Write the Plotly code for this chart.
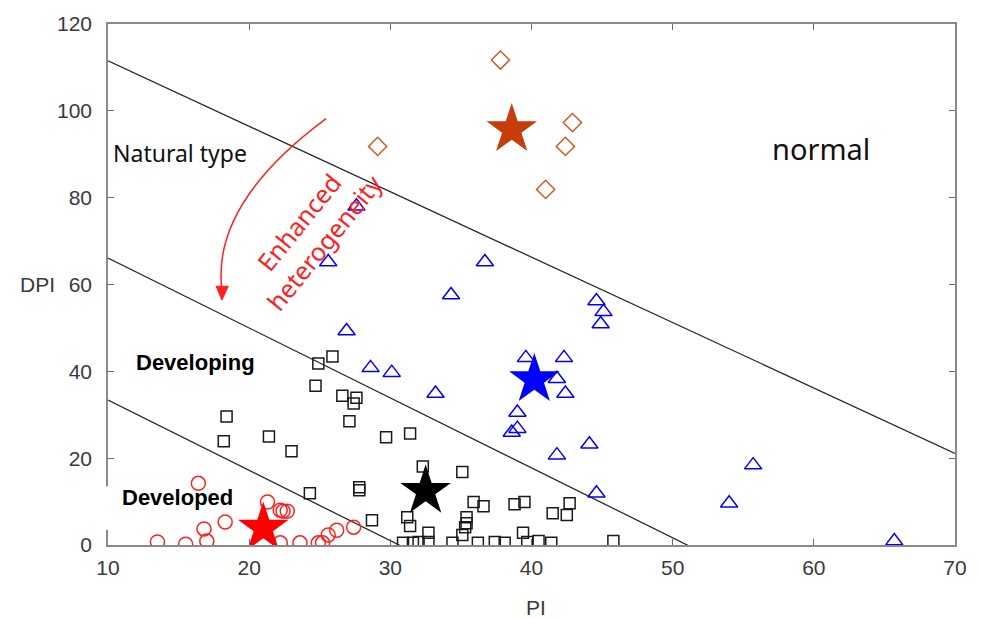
import plotly.graph_objects as go

# ---- data ----
developed_pi = [16.4, 21.3, 22.2, 22.4, 22.7, 16.8, 18.3, 13.5, 15.5, 17.0, 22.2, 23.6, 24.9, 25.2, 25.6, 26.2, 27.4]
developed_dpi = [14.2, 9.9, 8.0, 7.8, 7.8, 3.7, 5.3, 0.7, 0.2, 0.9, 0.5, 0.5, 0.5, 0.5, 2.3, 3.4, 4.1]

developing_pi = [25.9, 24.9, 24.7, 26.6, 27.6, 27.4, 27.1, 18.4, 18.2, 21.4, 23.0, 29.7, 31.4, 32.3, 35.1,
                 24.3, 27.8, 27.8, 28.7, 31.2, 31.4, 32.7, 32.7, 31.6, 30.9, 32.0, 34.4, 35.4, 35.4, 35.3,
                 35.1, 36.2, 37.4, 38.1, 38.8, 39.5, 41.5, 42.5, 42.7, 39.4, 39.7, 40.5, 41.4, 45.8, 36.6, 35.9]
developing_dpi = [43.4, 41.8, 36.7, 34.4, 33.9, 32.6, 28.5, 29.6, 23.9, 25.0, 21.6, 24.8, 25.7, 18.1, 16.8,
                  11.9, 13.3, 12.6, 5.7, 6.4, 4.4, 2.8, 0.7, 0.5, 0.5, 0.7, 0.5, 6.4, 5.0, 4.1,
                  2.3, 0.5, 0.7, 0.5, 9.4, 9.9, 7.3, 6.9, 9.6, 2.8, 0.7, 0.9, 0.5, 0.9, 8.9, 9.9]

natural_pi = [27.6, 25.6, 36.7, 34.3, 26.9, 28.6, 30.1, 33.2, 39.6, 42.3, 41.8, 42.4, 44.6, 45.1, 44.9,
              39.0, 39.0, 38.6, 44.1, 41.8, 44.6, 55.7, 54.0, 65.7]
natural_dpi = [78.0, 65.2, 65.2, 57.6, 49.3, 40.8, 39.7, 34.9, 43.1, 43.1, 38.3, 34.9, 56.2, 53.7, 50.9,
               30.5, 26.8, 25.9, 23.2, 20.7, 11.9, 18.4, 9.6, 0.9]

normal_pi = [37.8, 42.9, 42.4, 29.1, 41.0]
normal_dpi = [111.7, 97.3, 91.8, 91.8, 81.9]

centroid_pi = [21.0, 32.5, 40.2, 38.6]
centroid_dpi = [3.9, 12.4, 38.1, 95.7]
centroid_colors = ["#ff0000", "#000000", "#0000ff", "#c83c0a"]

# boundary lines (PI endpoints, DPI endpoints)
upper_pi, upper_dpi = [10, 70], [111.5, 21.1]
middle_pi, middle_dpi = [10, 51.4], [66.1, -0.6]
lower_pi, lower_dpi = [10, 30.8], [33.4, -0.3]

x_ticks = [10, 20, 30, 40, 50, 60, 70]
y_ticks = [0, 20, 40, 60, 80, 100, 120]

fig = go.Figure()

for lx, ly in [(upper_pi, upper_dpi), (middle_pi, middle_dpi), (lower_pi, lower_dpi)]:
    fig.add_trace(go.Scatter(x=lx, y=ly, mode="lines", line=dict(color="#2a2a2a", width=1.3),
                             hoverinfo="skip", showlegend=False, cliponaxis=True))

fig.add_trace(go.Scatter(x=developed_pi, y=developed_dpi, mode="markers", showlegend=False,
                         marker=dict(symbol="circle-open", size=14, color="#ff2020", line=dict(width=1.5))))
fig.add_trace(go.Scatter(x=developing_pi, y=developing_dpi, mode="markers", showlegend=False,
                         marker=dict(symbol="square-open", size=11, color="#1a1a1a", line=dict(width=1.5))))
fig.add_trace(go.Scatter(x=natural_pi, y=natural_dpi, mode="markers", showlegend=False,
                         marker=dict(symbol="triangle-up-open", size=15, color="#0000ff", line=dict(width=1.5))))
fig.add_trace(go.Scatter(x=normal_pi, y=normal_dpi, mode="markers", showlegend=False,
                         marker=dict(symbol="diamond-open", size=14, color="#d4572a", line=dict(width=1.5))))
fig.add_trace(go.Scatter(x=centroid_pi, y=centroid_dpi, mode="markers", showlegend=False,
                         marker=dict(symbol="star", size=38, color=centroid_colors, line=dict(width=0))))

ann_font = dict(family="Noto Sans, Liberation Sans, sans-serif", color="#111111")
axis_title_font = dict(family="Liberation Sans, Arial, sans-serif", size=21, color="#3a3a3a")
annotations = [
    dict(x=15.1, y=90.2, text="Natural type", showarrow=False, font=dict(size=23, **ann_font)),
    dict(x=60.5, y=91.3, text="normal", showarrow=False, font=dict(size=29, **ann_font)),
    dict(x=16.2, y=42.0, text="<b>Developing</b>", showarrow=False,
         font=dict(size=22, family="Liberation Sans, Arial, sans-serif", color="#000000")),
    dict(x=14.9, y=11.0, text="<b>Developed</b>", showarrow=False,
         font=dict(size=22, family="Liberation Sans, Arial, sans-serif", color="#000000")),
    dict(x=24.4, y=72.0, text="Enhanced<br>heterogeneity", showarrow=False, textangle=-51,
         font=dict(size=25, family="Noto Sans, Liberation Sans, sans-serif", color="#ff2020"),
         align="center"),
    dict(xref="paper", yref="paper", x=-0.060, y=0.5, xanchor="right", yanchor="middle",
         text="DPI", showarrow=False, font=axis_title_font),
    dict(xref="paper", yref="paper", x=0.505, y=-0.120, xanchor="center", yanchor="middle",
         text="PI", showarrow=False, font=axis_title_font),
]

shapes = [
    dict(type="path", xref="x", yref="y", path="M 25.45,98.2 Q 17.33,78.6 18.07,59.0",
         line=dict(color="#ff2020", width=1.5)),
    dict(type="path", xref="x", yref="y", path="M 17.66,59.6 L 18.52,59.6 L 18.07,56.4 Z",
         fillcolor="#ff2020", line=dict(color="#ff2020", width=1)),
    dict(type="rect", xref="paper", yref="y", x0=-0.004, x1=0.003, y0=3.5, y1=13.5,
         fillcolor="white", line=dict(width=0), layer="above"),
]

axis_common = dict(showgrid=False, zeroline=False, showline=True, linecolor="#8a8a8a", linewidth=1.6,
                   mirror="ticks", ticks="inside", ticklen=6, tickwidth=1.3, tickcolor="#6a6a6a",
                   tickfont=dict(family="Liberation Sans, Arial, sans-serif", size=21, color="#3a3a3a"))

fig.update_layout(
    width=981, height=619,
    margin=dict(l=108, r=26, t=22, b=74),
    paper_bgcolor="white", plot_bgcolor="white",
    annotations=annotations, shapes=shapes,
    xaxis=dict(range=[10, 70], tickvals=x_ticks, ticktext=[str(v) for v in x_ticks],
               ticklabelstandoff=3, **axis_common),
    yaxis=dict(range=[0, 120], tickvals=y_ticks, ticktext=[str(v) for v in y_ticks],
               ticklabelstandoff=10, **axis_common),
)

fig.write_html("out.html")
